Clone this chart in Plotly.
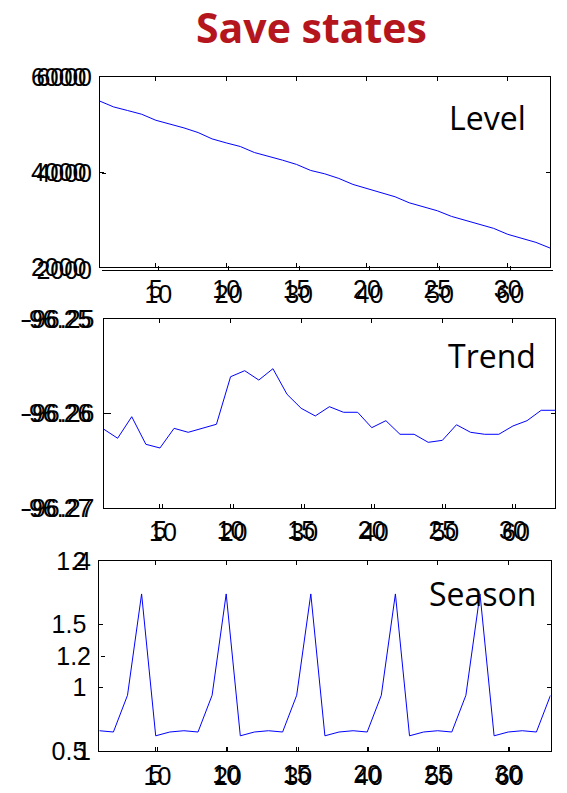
import plotly.graph_objects as go

# Time index and smoothed state estimates
t = list(range(1, 34))

level = [5496, 5371, 5295, 5217, 5091, 5014, 4930, 4833, 4699, 4615, 4539,
         4413, 4336, 4252, 4162, 4036, 3965, 3868, 3742, 3658, 3574, 3482,
         3356, 3272, 3188, 3070, 2986, 2902, 2818, 2693, 2608, 2524, 2405]

trend = [-96.26164, -96.26262, -96.26034, -96.26326, -96.26365, -96.26157,
         -96.26199, -96.26157, -96.26114, -96.25611, -96.25547, -96.25646,
         -96.25526, -96.25797, -96.25945, -96.26026, -96.25928, -96.25987,
         -96.25987, -96.26150, -96.26076, -96.26220, -96.26220, -96.26305,
         -96.26284, -96.26119, -96.26199, -96.26220, -96.26220, -96.26132,
         -96.26076, -96.25966, -96.25966]

season = [0.66, 0.65, 0.94, 1.74, 0.62, 0.65,
          0.66, 0.65, 0.94, 1.74, 0.62, 0.65,
          0.66, 0.65, 0.94, 1.74, 0.62, 0.65,
          0.66, 0.65, 0.94, 1.74, 0.62, 0.65,
          0.66, 0.65, 0.94, 1.74, 0.62, 0.65,
          0.66, 0.65, 0.94]

# Tick sets: main index axis and the doubled index axis drawn over it
x_ticks = [5, 10, 15, 20, 25, 30]
x2_ticks = [10, 20, 30, 40, 50, 60]
level_ticks = [2000, 4000, 6000]
trend_ticks = [-96.27, -96.26, -96.25]
trend_labels = ["-96.27", "-96.26", "-96.25"]
season_ticks = [0.5, 1, 1.5, 2]
season_labels = ["0.5", "1", "1.5", "2"]
season2_ticks = [1, 1.2, 1.4]
season2_labels = ["1", "1.2", "1.4"]

panel_titles = ["Level", "Trend", "Season"]

W, H = 567, 793


def xd(a, b):
    return [a / W, b / W]


def yd(top, bottom):
    return [1 - bottom / H, 1 - top / H]


TICKFONT = dict(family="Liberation Sans, Arial, sans-serif", size=25, color="black")


def axis(domain, rng, tickvals, ticktext=None, anchor=None, showline=True,
         mirror="ticks", standoff=4):
    d = dict(domain=domain, range=rng, tickvals=tickvals, showgrid=False,
             zeroline=False, showline=showline, linecolor="black", linewidth=1,
             mirror=mirror, ticks="inside", ticklen=4, tickcolor="black",
             tickwidth=1, tickfont=TICKFONT, ticklabelstandoff=standoff,
             automargin=False, fixedrange=True)
    if ticktext is not None:
        d["ticktext"] = ticktext
    if anchor is not None:
        d["anchor"] = anchor
    return d


fig = go.Figure()

line = dict(color="#0000FF", width=1)
fig.add_trace(go.Scatter(x=t, y=level, mode="lines", line=line,
                         xaxis="x", yaxis="y", showlegend=False, hoverinfo="skip"))
fig.add_trace(go.Scatter(x=t, y=trend, mode="lines", line=line,
                         xaxis="x2", yaxis="y2", showlegend=False, hoverinfo="skip"))
fig.add_trace(go.Scatter(x=t, y=season, mode="lines", line=line,
                         xaxis="x3", yaxis="y3", showlegend=False, hoverinfo="skip"))
# Empty traces so the overlaid axis sets get drawn
for i in (4, 5, 6):
    fig.add_trace(go.Scatter(x=[None], y=[None], mode="lines",
                             xaxis=f"x{i}", yaxis=f"y{i}",
                             showlegend=False, hoverinfo="skip"))

layout = dict(
    width=W, height=H, margin=dict(l=0, r=0, t=0, b=0, pad=0),
    paper_bgcolor="white", plot_bgcolor="rgba(0,0,0,0)",
    # panel 1: Level
    xaxis=axis(xd(99.5, 550), [1, 33], x_ticks, anchor="y", standoff=0),
    yaxis=axis(yd(77, 267.3), [2000, 6000], level_ticks, anchor="x", standoff=7),
    xaxis4=axis(xd(102, 552.5), [2, 66], x2_ticks, anchor="y4", mirror=False,
                standoff=2),
    yaxis4=axis(yd(77, 270), [2000, 6000], level_ticks, anchor="x4",
                showline=False, mirror=False, standoff=9),
    # panel 2: Trend
    xaxis2=axis(xd(103.5, 555.3), [1, 33], x_ticks, anchor="y2", standoff=0),
    yaxis2=axis(yd(319, 508), [-96.27, -96.25], trend_ticks, trend_labels,
                anchor="x2", standoff=6),
    xaxis5=axis(xd(106.5, 558.3), [2, 66], x2_ticks, anchor="y5", showline=False,
                mirror=False, standoff=7),
    yaxis5=axis(yd(319, 508), [-96.27, -96.25], trend_ticks, trend_labels,
                anchor="x5", showline=False, mirror=False, standoff=11),
    # panel 3: Season
    xaxis3=axis(xd(99.3, 550.5), [1, 33], x_ticks, anchor="y3", standoff=1),
    yaxis3=axis(yd(561, 751), [0.5, 2], season_ticks, season_labels,
                anchor="x3", standoff=7),
    xaxis6=axis(xd(101, 552), [2, 66], x2_ticks, anchor="y6", showline=False,
                mirror=False, standoff=8),
    yaxis6=axis(yd(561, 751), [1, 1.4], season2_ticks, season2_labels,
                anchor="x6", showline=False, mirror=False, standoff=9),
)
fig.update_layout(**layout)

# Figure title
fig.add_annotation(text="<b>Save states</b>", x=311.5 / W, y=1 - 27 / H,
                   xref="paper", yref="paper", xanchor="center", yanchor="middle",
                   showarrow=False,
                   font=dict(family="Open Sans, sans-serif", size=41, color="#B5161D"))

# Panel names inside each plot
for name, cx, cy in zip(panel_titles, [487, 492, 482], [118, 355, 593]):
    fig.add_annotation(text=name, x=cx / W, y=1 - cy / H, xref="paper", yref="paper",
                       xanchor="center", yanchor="middle", showarrow=False,
                       font=dict(family="Open Sans, sans-serif", size=32, color="black"))

fig.write_html("out.html")
